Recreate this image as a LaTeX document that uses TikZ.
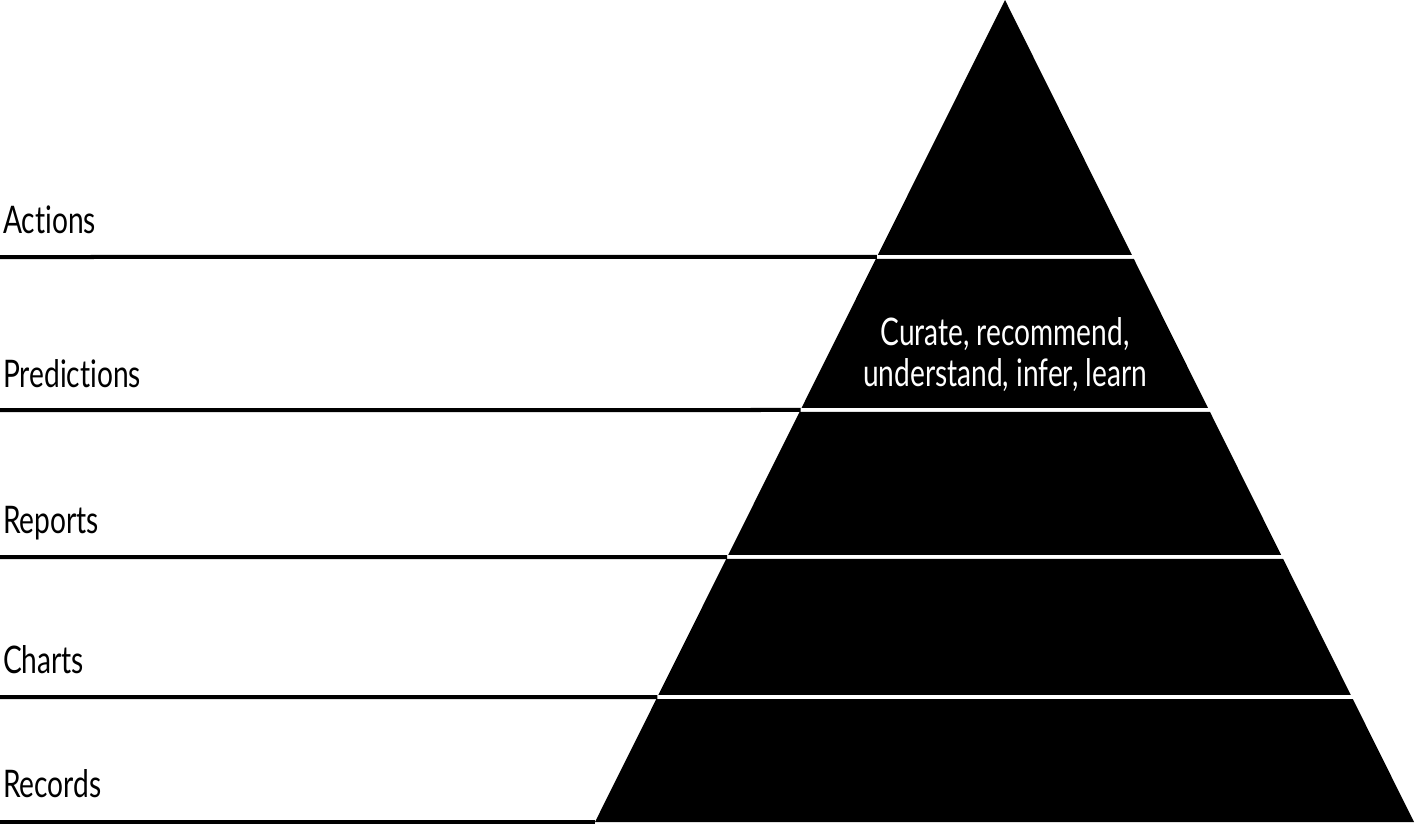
\documentclass[tikz,border=0pt]{standalone}
\usepackage{fontspec}
\setmainfont[FakeStretch=0.74,Ligatures={NoCommon,NoRare}]{Lato}
\usetikzlibrary{calc}
\begin{document}
\begin{tikzpicture}[x=1pt,y=-1pt,
  lbl/.style={anchor=base west,inner sep=0pt,font=\fontsize{38}{41}\selectfont},
  layer/.style={fill=black,draw=none},
  rule/.style={line width=4pt,draw=black}]
\useasboundingbox (0,0) rectangle (1416,824);
\coordinate (apex) at (1005,0);
\coordinate (bl) at (595,822);
\coordinate (br) at (1414,822);
% layer boundaries (top, bottom) in px
\def\L#1{($(apex)!#1/822!(bl)$)}
\def\R#1{($(apex)!#1/822!(br)$)}
\fill[layer] (apex) -- \R{255} -- \L{255} -- cycle;
\fill[layer] \L{259} -- \R{259} -- \R{408} -- \L{408} -- cycle;
\fill[layer] \L{412} -- \R{412} -- \R{555} -- \L{555} -- cycle;
\fill[layer] \L{559} -- \R{559} -- \R{695} -- \L{695} -- cycle;
\fill[layer] \L{699} -- \R{699} -- (br) -- (bl) -- cycle;
% left rules
\coordinate (e1) at ($(apex)!257/822!(bl)$);
\coordinate (e2) at ($(apex)!410/822!(bl)$);
\coordinate (e3) at ($(apex)!557/822!(bl)$);
\coordinate (e4) at ($(apex)!697/822!(bl)$);
\coordinate (e5) at ($(bl)+(0,0)$);
\coordinate (s1) at (0,257);
\coordinate (s2) at (0,410);
\coordinate (s3) at (0,557);
\coordinate (s4) at (0,697);
\coordinate (s5) at (0,822);
\draw[rule] (s1) -- (e1);
\draw[rule] (s2) -- (e2);
\draw[rule] (s3) -- (e3);
\draw[rule] (s4) -- (e4);
\draw[rule] (s5) -- (e5);
% labels
\node[lbl] (actions) at (3,233) {Actions};
\node[lbl] (predictions) at (3,387) {Predictions};
\node[lbl] (reports) at (3,533) {Reports};
\node[lbl] (charts) at (3,673) {Charts};
\node[lbl] (records) at (3,797) {Records};
\node[anchor=base,align=center,inner sep=0pt,text=white,font=\fontsize{38}{41}\selectfont] (inner) at (1005,386) {Curate, recommend,\\understand, infer, learn};
\end{tikzpicture}
\end{document}
